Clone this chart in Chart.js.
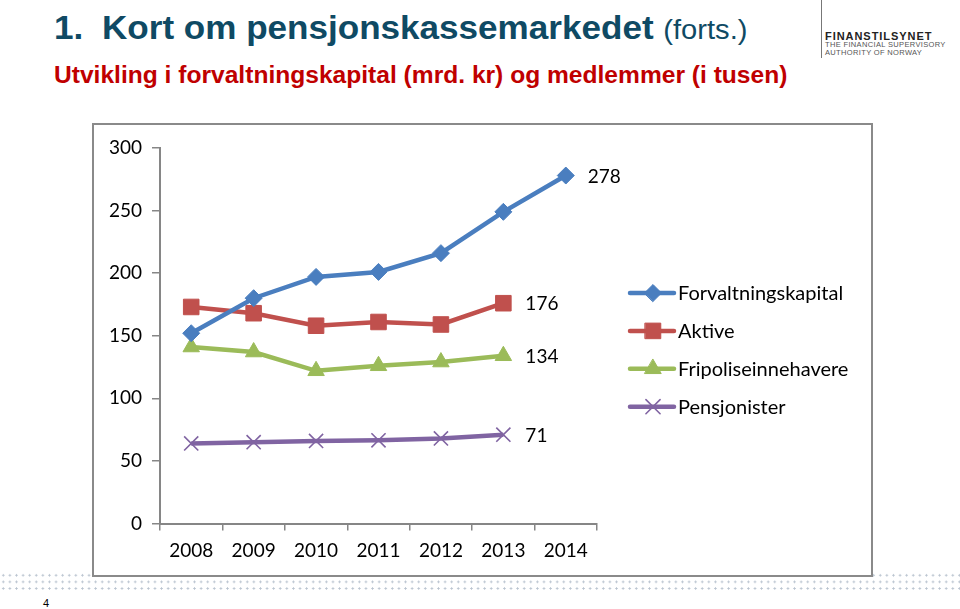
<!DOCTYPE html>
<html>
<head>
<meta charset="utf-8">
<script src="https://cdn.jsdelivr.net/npm/chart.js@4.4.0/dist/chart.umd.min.js"></script>
<style>
    body { margin: 0; width: 960px; height: 609px; background: #fff; position: relative; overflow: hidden; font-family: "Liberation Sans", Arial, sans-serif; }
    .title { position: absolute; left: 54px; top: 10px; font-size: 32.5px; font-weight: bold; color: #0f4a64; white-space: nowrap; transform: scaleX(1.079); transform-origin: left top; }
    .title .num { display: inline-block; width: 44.5px; }
    .title .forts { font-weight: normal; font-size: 27px; }
    .subtitle { position: absolute; left: 54px; top: 61.5px; font-size: 23.3px; font-weight: bold; color: #c00000; white-space: nowrap; transform: scaleX(1.055); transform-origin: left top; }
    .logo-bar { position: absolute; left: 821px; top: 0; width: 1px; height: 58px; background: #777; }
    .logo-name { position: absolute; left: 825px; top: 30px; font-size: 11px; font-weight: bold; letter-spacing: 0.95px; color: #222; }
    .logo-sub { position: absolute; left: 825px; top: 41px; font-size: 7.5px; line-height: 7.5px; letter-spacing: 0.35px; color: #555; }
    .dots { position: absolute; left: 0; top: 572px; width: 960px; height: 20px;
        background-image: radial-gradient(circle, #b9c3cf 0.9px, transparent 1.2px);
        background-size: 6.6px 6.6px; background-position: 0 0; }
    .chart-box { position: absolute; left: 92px; top: 123px; width: 781px; height: 454px; box-sizing: border-box; border: 2px solid #8a8a8a; background: #fff; }
    .page-num { position: absolute; left: 43px; top: 597px; font-size: 11px; color: #000; }
</style>
</head>
<body>
    <div class="title"><span class="num">1.</span>Kort om pensjonskassemarkedet <span class="forts">(forts.)</span></div>
    <div class="subtitle">Utvikling i forvaltningskapital (mrd. kr) og medlemmer (i tusen)</div>
    <div class="logo-bar"></div>
    <div class="logo-name">FINANSTILSYNET</div>
    <div class="logo-sub">THE FINANCIAL SUPERVISORY<br>AUTHORITY OF NORWAY</div>
    <div class="dots"></div>
    <div class="chart-box">
        <canvas id="pensjonChart" width="777" height="450"></canvas>
    </div>
    <div class="page-num">4</div>

<script>
// Data lest av grafen
const years = ["2008", "2009", "2010", "2011", "2012", "2013", "2014"];
const forvaltningskapital = [152, 180, 197, 201, 216, 249, 278];
const aktive = [173, 168, 158, 161, 159, 176, null];
const fripoliseinnehavere = [141, 137, 122, 126, 129, 134, null];
const pensjonister = [64, 65, 66, 66.5, 68, 71, null];
const yTicks = [0, 50, 100, 150, 200, 250, 300];

const FONT = "Lato, 'Open Sans', sans-serif";

// Verdi ved siste punkt i hver serie
const endLabels = {
    id: "endLabels",
    afterDatasetsDraw(chart) {
        const ctx = chart.ctx;
        ctx.save();
        ctx.font = "19px " + FONT;
        ctx.fillStyle = "#000";
        ctx.textAlign = "left";
        ctx.textBaseline = "middle";
        chart.data.datasets.forEach((ds, i) => {
            let last = ds.data.length - 1;
            while (last >= 0 && ds.data[last] == null) last--;
            const pt = chart.getDatasetMeta(i).data[last];
            ctx.fillText(String(Math.round(ds.data[last])), pt.x + 22, pt.y + 1);
        });
        ctx.restore();
    }
};

// Forklaring til hoyre med linje + markor
const sideLegend = {
    id: "sideLegend",
    afterDraw(chart) {
        const ctx = chart.ctx;
        const x0 = 536, x1 = 580, top = 168, step = 37.9;
        ctx.save();
        chart.data.datasets.forEach((ds, i) => {
            const y = top + i * step;
            ctx.strokeStyle = ds.borderColor;
            ctx.lineWidth = ds.borderWidth;
            ctx.lineCap = "round";
            ctx.beginPath();
            ctx.moveTo(x0, y);
            ctx.lineTo(x1, y);
            ctx.stroke();
            ctx.fillStyle = ds.backgroundColor;
            ctx.strokeStyle = ds.borderColor;
            ctx.lineWidth = ds.pointBorderWidth;
            Chart.helpers.drawPoint(ctx, {
                pointStyle: ds.pointStyle,
                radius: ds.pointRadius,
                rotation: 0,
                borderWidth: ds.pointBorderWidth
            }, (x0 + x1) / 2 + 1, y);
            ctx.font = "20px " + FONT;
            ctx.fillStyle = "#000";
            ctx.textAlign = "left";
            ctx.textBaseline = "middle";
            ctx.fillText(ds.label, x1 + 4, y + 1);
        });
        ctx.restore();
    }
};

function serie(label, data, color, style, radius, pbw) {
    return {
        label: label,
        data: data,
        borderColor: color,
        backgroundColor: color,
        borderWidth: 4.5,
        pointStyle: style,
        pointRadius: radius,
        pointHoverRadius: radius,
        pointBorderWidth: pbw,
        pointBackgroundColor: color,
        pointBorderColor: color,
        tension: 0,
        spanGaps: false
    };
}

new Chart(document.getElementById("pensjonChart"), {
    type: "line",
    data: {
        labels: years,
        datasets: [
            serie("Forvaltningskapital", forvaltningskapital, "#4a7ebf", "rectRot", 8.5, 1),
            serie("Aktive", aktive, "#c0504d", "rect", 11, 1),
            serie("Fripoliseinnehavere", fripoliseinnehavere, "#9bbb59", "triangle", 9.5, 1),
            serie("Pensjonister", pensjonister, "#8064a2", "crossRot", 10, 1.6)
        ]
    },
    options: {
        responsive: false,
        animation: false,
        layout: { padding: { top: 23, right: 274, bottom: 0, left: 0 } },
        plugins: {
            legend: { display: false },
            tooltip: { enabled: false }
        },
        scales: {
            x: {
                offset: true,
                grid: { offset: true, drawOnChartArea: false, color: "#868686", tickLength: 7, lineWidth: 1.5 },
                border: { color: "#868686", width: 2 },
                ticks: { font: { family: FONT, size: 19 }, color: "#000", padding: 9, maxRotation: 0 },
                afterFit(scale) { scale.height = 51.5; }
            },
            y: {
                min: 0,
                max: 300,
                afterBuildTicks(scale) { scale.ticks = yTicks.map(v => ({ value: v })); },
                grid: { drawOnChartArea: false, color: "#868686", tickLength: 8, lineWidth: 1.5 },
                border: { color: "#868686", width: 2 },
                ticks: { font: { family: FONT, size: 19 }, color: "#000", padding: 10 },
                afterFit(scale) { scale.width = 66; }
            }
        }
    },
    plugins: [endLabels, sideLegend]
});
</script>
</body>
</html>
